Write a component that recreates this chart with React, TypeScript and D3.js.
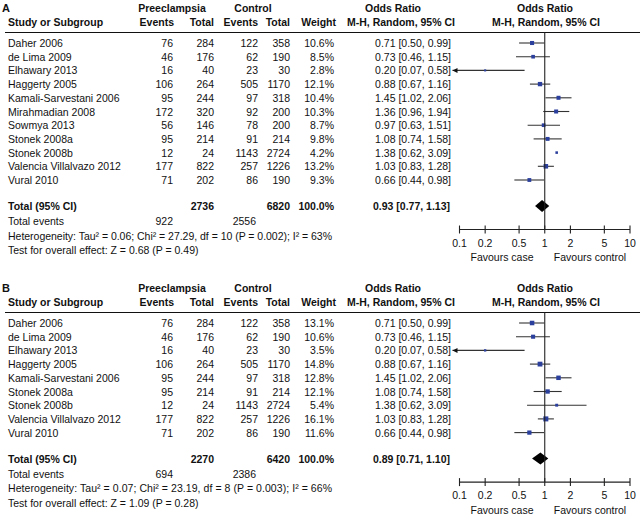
import { useEffect } from "react";
import * as d3 from "d3";

// panel A
const studiesA = [
  "Daher 2006", "de Lima 2009", "Elhawary 2013", "Haggerty 2005", "Kamali-Sarvestani 2006",
  "Mirahmadian 2008", "Sowmya 2013", "Stonek 2008a", "Stonek 2008b", "Valencia Villalvazo 2012", "Vural 2010",
];
const caseEventsA = [76, 46, 16, 106, 95, 172, 56, 95, 12, 177, 71];
const caseTotalA = [284, 176, 40, 264, 244, 320, 146, 214, 24, 822, 202];
const ctrlEventsA = [122, 62, 23, 505, 97, 92, 78, 91, 1143, 257, 86];
const ctrlTotalA = [358, 190, 30, 1170, 318, 200, 200, 214, 2724, 1226, 190];
const weightA = [10.6, 8.5, 2.8, 12.1, 10.4, 10.3, 8.7, 9.8, 4.2, 13.2, 9.3];
const orA = [0.71, 0.73, 0.2, 0.88, 1.45, 1.36, 0.97, 1.08, 1.38, 1.03, 0.66];
const lowA = [0.5, 0.46, 0.07, 0.67, 1.02, 0.96, 0.63, 0.74, 0.62, 0.83, 0.44];
const highA = [0.99, 1.15, 0.58, 1.16, 2.06, 1.94, 1.51, 1.58, 3.09, 1.28, 0.98];
const totalA = { caseTotal: 2736, ctrlTotal: 6820, caseEvents: 922, ctrlEvents: 2556, or: 0.93, low: 0.77, high: 1.13 };
const hetA = "Heterogeneity: Tau² = 0.06; Chi² = 27.29, df = 10 (P = 0.002); I² = 63%";
const testA = "Test for overall effect: Z = 0.68 (P = 0.49)";

// panel B
const studiesB = [
  "Daher 2006", "de Lima 2009", "Elhawary 2013", "Haggerty 2005", "Kamali-Sarvestani 2006",
  "Stonek 2008a", "Stonek 2008b", "Valencia Villalvazo 2012", "Vural 2010",
];
const caseEventsB = [76, 46, 16, 106, 95, 95, 12, 177, 71];
const caseTotalB = [284, 176, 40, 264, 244, 214, 24, 822, 202];
const ctrlEventsB = [122, 62, 23, 505, 97, 91, 1143, 257, 86];
const ctrlTotalB = [358, 190, 30, 1170, 318, 214, 2724, 1226, 190];
const weightB = [13.1, 10.6, 3.5, 14.8, 12.8, 12.1, 5.4, 16.1, 11.6];
const orB = [0.71, 0.73, 0.2, 0.88, 1.45, 1.08, 1.38, 1.03, 0.66];
const lowB = [0.5, 0.46, 0.07, 0.67, 1.02, 0.74, 0.62, 0.83, 0.44];
const highB = [0.99, 1.15, 0.58, 1.16, 2.06, 1.58, 3.09, 1.28, 0.98];
const totalB = { caseTotal: 2270, ctrlTotal: 6420, caseEvents: 694, ctrlEvents: 2386, or: 0.89, low: 0.71, high: 1.1 };
const hetB = "Heterogeneity: Tau² = 0.07; Chi² = 23.19, df = 8 (P = 0.003); I² = 66%";
const testB = "Test for overall effect: Z = 1.09 (P = 0.28)";

const tickValues = [0.1, 0.2, 0.5, 1, 2, 5, 10];

const x = d3.scaleLog().domain([0.1, 10]).range([459.5, 630]);
const f2 = d3.format(".2f");
const ciText = (o: number, l: number, h: number) => `${f2(o)} [${f2(l)}, ${f2(h)}]`;

const BLUE = "#2b3f9c";
const FONT = "'Liberation Sans', Arial, sans-serif";

type PanelProps = {
  label: string;
  top: number;
  studies: string[];
  caseEvents: number[];
  caseTotal: number[];
  ctrlEvents: number[];
  ctrlTotal: number[];
  weight: number[];
  or: number[];
  low: number[];
  high: number[];
  total: typeof totalA;
  het: string;
  test: string;
  hideCI?: string[];
};

function Panel(p: PanelProps) {
  const rowY = (i: number) => 43 + i * 13.7;
  const last = rowY(p.studies.length - 1);
  const totY = last + 26;
  const evY = totY + 15;
  const hetY = evY + 14.5;
  const testY = hetY + 14.5;
  const axisY = totY + 23.5;

  return (
    <g transform={`translate(0,${p.top})`} fontFamily={FONT} fontSize={10.5} fill="#111">
      <text x={2} y={8} fontWeight="bold" dominantBaseline="central" fontSize={11}>{p.label}</text>
      <g fontWeight="bold" textAnchor="middle" dominantBaseline="central">
        <text x={172} y={8}>Preeclampsia</text>
        <text x={253} y={8}>Control</text>
        <text x={393} y={8}>Odds Ratio</text>
        <text x={545} y={8}>Odds Ratio</text>
      </g>
      <g fontWeight="bold" dominantBaseline="central">
        <text x={8} y={22}>Study or Subgroup</text>
        <text x={174} y={22} textAnchor="end">Events</text>
        <text x={214} y={22} textAnchor="end">Total</text>
        <text x={258} y={22} textAnchor="end">Events</text>
        <text x={290} y={22} textAnchor="end">Total</text>
        <text x={336} y={22} textAnchor="end">Weight</text>
        <text x={401} y={22} textAnchor="middle">M-H, Random, 95% CI</text>
        <text x={546} y={22} textAnchor="middle">M-H, Random, 95% CI</text>
      </g>
      <line x1={5} x2={640} y1={32.5} y2={32.5} stroke="#111" strokeWidth={1.2} />

      {p.studies.map((s, i) => {
        const y = rowY(i);
        const side = 1.25 * Math.sqrt(p.weight[i]);
        const clipped = p.low[i] < 0.1;
        const x0 = clipped ? x(0.1) - 7 : x(p.low[i]);
        const showCI = !(p.hideCI || []).includes(s);
        return (
          <g key={s} dominantBaseline="central">
            <text x={8} y={y}>{s}</text>
            <text x={173} y={y} textAnchor="end">{p.caseEvents[i]}</text>
            <text x={214} y={y} textAnchor="end">{p.caseTotal[i]}</text>
            <text x={258} y={y} textAnchor="end">{p.ctrlEvents[i]}</text>
            <text x={290} y={y} textAnchor="end">{p.ctrlTotal[i]}</text>
            <text x={334} y={y} textAnchor="end">{p.weight[i].toFixed(1)}%</text>
            <text x={451} y={y} textAnchor="end">{ciText(p.or[i], p.low[i], p.high[i])}</text>
            {showCI && (
              <line x1={x0} x2={x(p.high[i])} y1={y} y2={y} stroke="#333" strokeWidth={1.1} />
            )}
            {showCI && clipped && (
              <path d={`M${x0},${y}L${x0 + 5},${y - 2.5}L${x0 + 5},${y + 2.5}Z`} fill="#111" />
            )}
            <rect x={x(p.or[i]) - side / 2} y={y - side / 2} width={side} height={side} fill={BLUE} />
          </g>
        );
      })}

      <g dominantBaseline="central">
        <text x={8} y={totY} fontWeight="bold">Total (95% CI)</text>
        <text x={214} y={totY} fontWeight="bold" textAnchor="end">{p.total.caseTotal}</text>
        <text x={290} y={totY} fontWeight="bold" textAnchor="end">{p.total.ctrlTotal}</text>
        <text x={334} y={totY} fontWeight="bold" textAnchor="end">100.0%</text>
        <text x={450} y={totY} fontWeight="bold" textAnchor="end">{ciText(p.total.or, p.total.low, p.total.high)}</text>
        <text x={8} y={evY}>Total events</text>
        <text x={173} y={evY} textAnchor="end">{p.total.caseEvents}</text>
        <text x={256} y={evY} textAnchor="end">{p.total.ctrlEvents}</text>
        <text x={8} y={hetY} textLength={324} lengthAdjust="spacing">{p.het}</text>
        <text x={8} y={testY}>{p.test}</text>
      </g>
      <path
        d={`M${x(p.total.low)},${totY}L${x(p.total.or)},${totY - 6}L${x(p.total.high)},${totY}L${x(p.total.or)},${totY + 6}Z`}
        fill="#000"
      />

      <line x1={x(1)} x2={x(1)} y1={32.5} y2={axisY} stroke="#222" strokeWidth={1.1} />
      <line x1={x(0.1)} x2={x(10)} y1={axisY} y2={axisY} stroke="#222" strokeWidth={1.1} />
      {tickValues.map((t) => (
        <g key={t}>
          <line x1={x(t)} x2={x(t)} y1={axisY - 4} y2={axisY + 4} stroke="#222" strokeWidth={1.1} />
          <text x={x(t)} y={axisY + 13} textAnchor="middle" dominantBaseline="central">{String(t)}</text>
        </g>
      ))}
      <text x={502} y={axisY + 27.5} textAnchor="middle" dominantBaseline="central">Favours case</text>
      <text x={590} y={axisY + 27.5} textAnchor="middle" dominantBaseline="central">Favours control</text>
    </g>
  );
}

export default function App() {
  useEffect(() => {
    document.body.style.margin = "0";
  }, []);
  return (
    <svg width={640} height={515} style={{ display: "block", background: "#fff" }}>
      <Panel
        label="A" top={0} studies={studiesA}
        caseEvents={caseEventsA} caseTotal={caseTotalA} ctrlEvents={ctrlEventsA} ctrlTotal={ctrlTotalA}
        weight={weightA} or={orA} low={lowA} high={highA} total={totalA} het={hetA} test={testA}
        hideCI={["Stonek 2008b"]}
      />
      <Panel
        label="B" top={280} studies={studiesB}
        caseEvents={caseEventsB} caseTotal={caseTotalB} ctrlEvents={ctrlEventsB} ctrlTotal={ctrlTotalB}
        weight={weightB} or={orB} low={lowB} high={highB} total={totalB} het={hetB} test={testB}
      />
    </svg>
  );
}
